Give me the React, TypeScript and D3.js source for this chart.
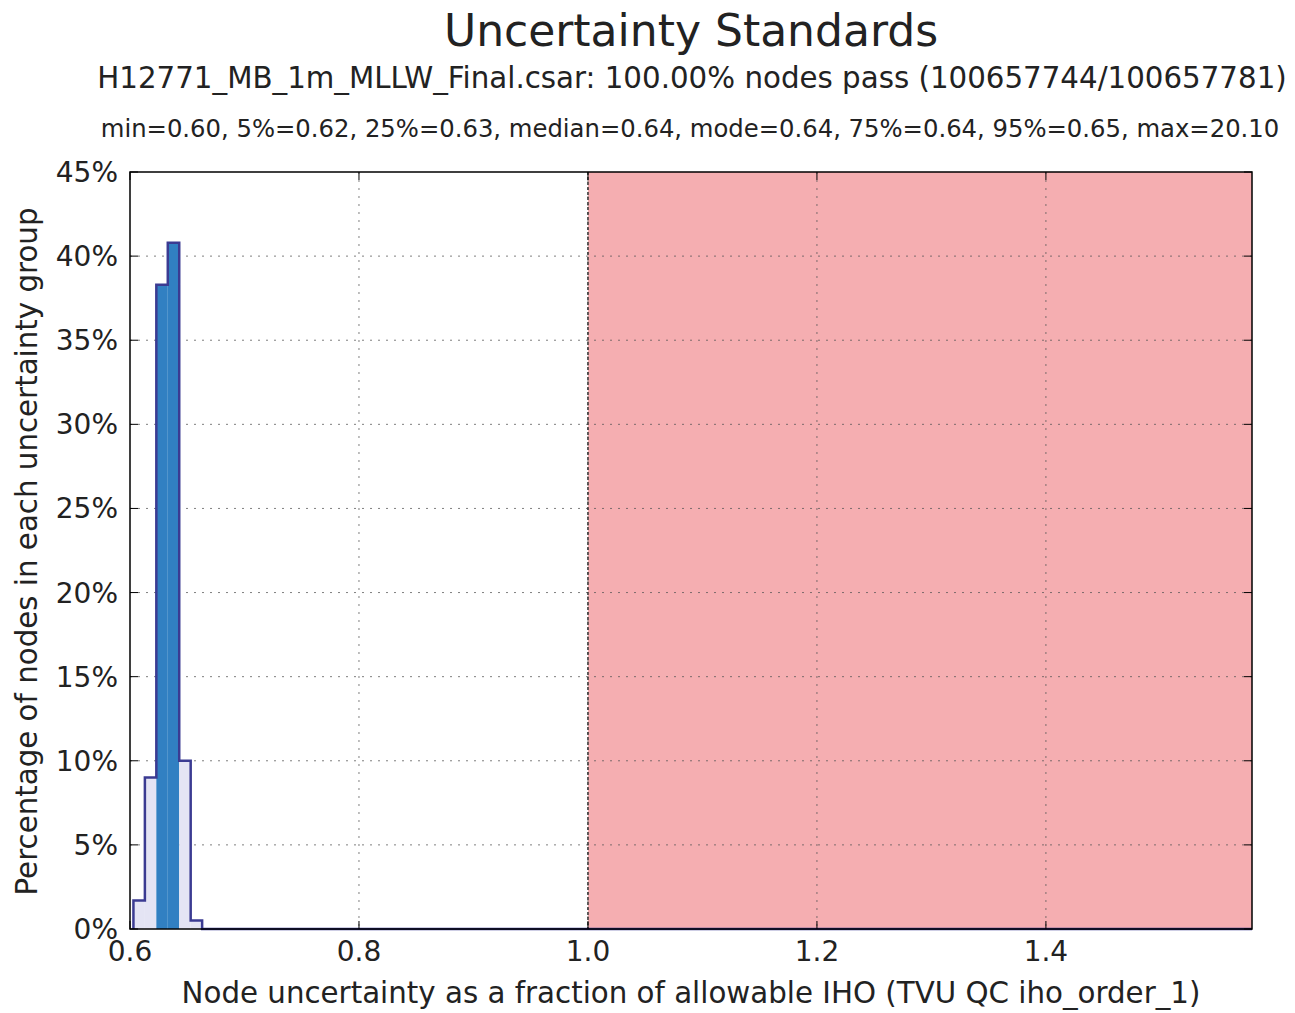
import React, { useEffect, useRef } from 'react'
import * as d3 from 'd3'

// histogram bins (fraction of allowable IHO)
const binEdges = [0.603, 0.613, 0.623, 0.633, 0.643, 0.653, 0.663]
const binPercent = [1.7, 9.0, 38.3, 40.8, 10.0, 0.5]
const highlightBins = [2, 3] // 25%..75% range, drawn in blue
const xTicks = [0.6, 0.8, 1.0, 1.2, 1.4]
const yTicks = [0, 5, 10, 15, 20, 25, 30, 35, 40, 45]
const failThreshold = 1.0
const xMax = 1.58

const title = 'Uncertainty Standards'
const subtitle = 'H12771_MB_1m_MLLW_Final.csar: 100.00% nodes pass (100657744/100657781)'
const stats = 'min=0.60, 5%=0.62, 25%=0.63, median=0.64, mode=0.64, 75%=0.64, 95%=0.65, max=20.10'
const xLabel = 'Node uncertainty as a fraction of allowable IHO (TVU QC iho_order_1)'
const yLabel = 'Percentage of nodes in each uncertainty group'

const App = () => {
  const svgRef = useRef<SVGSVGElement>(null)

  useEffect(() => {
    const w = 1295
    const h = 1013
    const m = { left: 130, right: 1252, top: 172, bottom: 929 }
    const font = 'DejaVu Sans, sans-serif'

    const svg = d3.select(svgRef.current)
    svg.selectAll('*').remove()
    svg.attr('width', w).attr('height', h)

    const x = d3.scaleLinear().domain([0.6, xMax]).range([m.left, m.right])
    const y = d3.scaleLinear().domain([0, 45]).range([m.bottom, m.top])

    // pink fail region
    svg.append('rect')
      .attr('x', x(failThreshold)).attr('y', m.top)
      .attr('width', m.right - x(failThreshold)).attr('height', m.bottom - m.top)
      .attr('fill', '#f5aeb1')

    // grid
    const grid = svg.append('g').attr('stroke', '#555').attr('stroke-width', 1)
      .attr('stroke-dasharray', '2,6').attr('opacity', 0.75)
    xTicks.slice(1).forEach(t => {
      grid.append('line').attr('x1', x(t)).attr('x2', x(t)).attr('y1', m.top).attr('y2', m.bottom)
    })
    yTicks.slice(1, -1).forEach(t => {
      grid.append('line').attr('x1', m.left).attr('x2', m.right).attr('y1', y(t)).attr('y2', y(t))
    })

    // threshold line
    svg.append('line')
      .attr('x1', x(failThreshold)).attr('x2', x(failThreshold))
      .attr('y1', m.top).attr('y2', m.bottom)
      .attr('stroke', '#333').attr('stroke-width', 1.5).attr('stroke-dasharray', '3,2')

    // histogram fill
    binPercent.forEach((v, i) => {
      svg.append('rect')
        .attr('x', x(binEdges[i])).attr('y', y(v))
        .attr('width', x(binEdges[i + 1]) - x(binEdges[i]))
        .attr('height', y(0) - y(v))
        .attr('fill', highlightBins.includes(i) ? '#3180c2' : '#e4e4f4')
    })

    // histogram outline (step)
    const pts: [number, number][] = [[binEdges[0], 0]]
    binPercent.forEach((v, i) => {
      pts.push([binEdges[i], v])
      pts.push([binEdges[i + 1], v])
    })
    pts.push([binEdges[binEdges.length - 1], 0])
    pts.push([xMax, 0])
    const line = d3.line<[number, number]>().x(d => x(d[0])).y(d => y(d[1]))
    svg.append('path')
      .attr('d', line(pts))
      .attr('fill', 'none').attr('stroke', '#3b3b92').attr('stroke-width', 2.5)

    // frame
    svg.append('rect')
      .attr('x', m.left).attr('y', m.top)
      .attr('width', m.right - m.left).attr('height', m.bottom - m.top)
      .attr('fill', 'none').attr('stroke', '#000').attr('stroke-width', 1.5)

    // ticks (inside, all sides)
    const tk = svg.append('g').attr('stroke', '#000').attr('stroke-width', 1)
    xTicks.forEach(t => {
      tk.append('line').attr('x1', x(t)).attr('x2', x(t)).attr('y1', m.bottom).attr('y2', m.bottom - 8)
      tk.append('line').attr('x1', x(t)).attr('x2', x(t)).attr('y1', m.top).attr('y2', m.top + 8)
    })
    yTicks.forEach(t => {
      tk.append('line').attr('x1', m.left).attr('x2', m.left + 8).attr('y1', y(t)).attr('y2', y(t))
      tk.append('line').attr('x1', m.right).attr('x2', m.right - 8).attr('y1', y(t)).attr('y2', y(t))
    })

    // tick labels
    svg.append('g').selectAll('text').data(xTicks).join('text')
      .attr('x', d => x(d)).attr('y', m.bottom + 32)
      .attr('text-anchor', 'middle')
      .attr('font-family', font).attr('font-size', 28).attr('fill', '#222')
      .text(d => d.toFixed(1))
    svg.append('g').selectAll('text').data(yTicks).join('text')
      .attr('x', m.left - 12).attr('y', d => y(d) + 10)
      .attr('text-anchor', 'end')
      .attr('font-family', font).attr('font-size', 28).attr('fill', '#222')
      .text(d => `${d}%`)

    // titles
    svg.append('text').attr('x', 691).attr('y', 46).attr('text-anchor', 'middle')
      .attr('font-family', font).attr('font-size', 44).attr('fill', '#222').text(title)
    svg.append('text').attr('x', 692).attr('y', 88).attr('text-anchor', 'middle')
      .attr('font-family', font).attr('font-size', 29.3).attr('fill', '#222').text(subtitle)
    svg.append('text').attr('x', 690).attr('y', 137).attr('text-anchor', 'middle')
      .attr('font-family', font).attr('font-size', 24.3).attr('fill', '#222').text(stats)

    // axis labels
    svg.append('text').attr('x', 691).attr('y', 1003).attr('text-anchor', 'middle')
      .attr('font-family', font).attr('font-size', 29.3).attr('fill', '#222').text(xLabel)
    svg.append('text')
      .attr('transform', `translate(37, ${(m.top + m.bottom) / 2 + 1}) rotate(-90)`)
      .attr('text-anchor', 'middle')
      .attr('font-family', font).attr('font-size', 29.3).attr('fill', '#222').text(yLabel)
  }, [])

  return (
    <svg ref={svgRef} style={{ position: 'absolute', left: 0, top: 0, background: '#fff' }} />
  )
}

export default App
